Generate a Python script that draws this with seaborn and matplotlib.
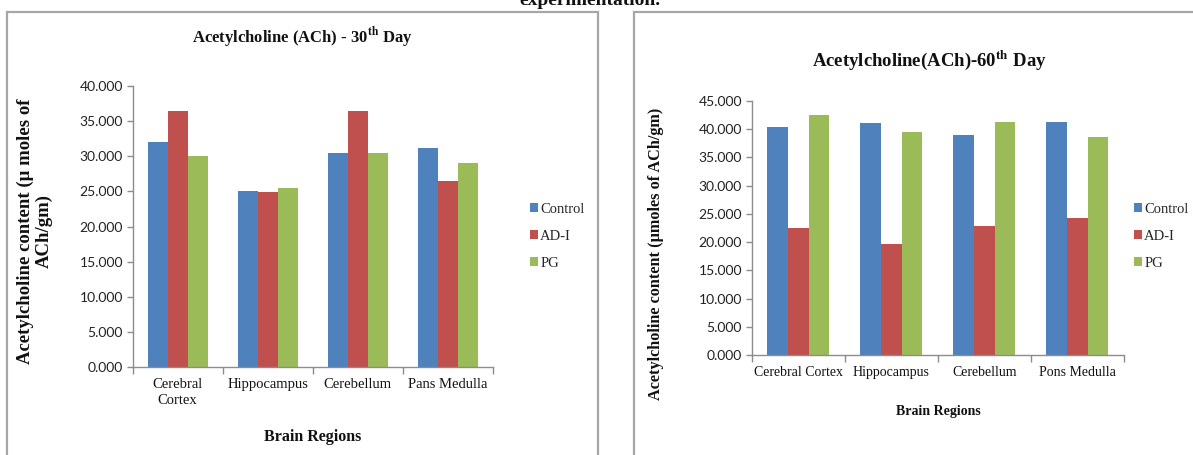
import matplotlib
matplotlib.use("Agg")
import matplotlib.pyplot as plt
from matplotlib.patches import Rectangle, Patch
from matplotlib.ticker import FixedLocator, FormatStrFormatter
import numpy as np
import pandas as pd
import seaborn as sns

# ---- data -------------------------------------------------------------
regions_30 = ["Cerebral\nCortex", "Hippocampus", "Cerebellum", "Pans Medulla"]
regions_60 = ["Cerebral Cortex", "Hippocampus", "Cerebellum", "Pons Medulla"]
groups = ["Control", "AD-I", "PG"]

control_30 = [32.1, 25.05, 30.45, 31.25]
adi_30 = [36.5, 24.9, 36.5, 26.5]
pg_30 = [30.1, 25.5, 30.45, 29.1]

control_60 = [40.3, 41.0, 38.9, 41.15]
adi_60 = [22.5, 19.7, 22.9, 24.3]
pg_60 = [42.5, 39.45, 41.15, 38.6]

colors = ["#4F81BD", "#C0504D", "#9BBB59"]

# ---- style ------------------------------------------------------------
sns.set_theme(style="white")
plt.rcParams["font.family"] = ["Liberation Serif", "DejaVu Serif"]
plt.rcParams["mathtext.fontset"] = "stix"

SERIF = ["Liberation Serif", "DejaVu Serif"]
SANS = ["Lato", "DejaVu Sans"]
AXIS_GRAY = "#8C8C8C"

W, H = 1193, 455
fig = plt.figure(figsize=(W / 100, H / 100), dpi=100)
fig.patch.set_facecolor("white")


def fx(px):
    return px / W


def fy(py):
    return 1 - py / H


def long_form(regions, ctrl, adi, pg):
    rows = []
    for series, name in zip([ctrl, adi, pg], groups):
        for r, v in zip(regions, series):
            rows.append({"Region": r, "Group": name, "Value": v})
    return pd.DataFrame(rows)


def draw_panel(ax, df, regions, ymax, step, tick_fs, xtick_fs):
    sns.barplot(data=df, x="Region", y="Value", hue="Group", order=regions,
                hue_order=groups, palette=colors, width=2 / 3, gap=0,
                saturation=1, linewidth=0, legend=False, ax=ax)
    ax.set_xlim(-0.5, len(regions) - 0.5)
    ax.set_ylim(0, ymax)
    ax.yaxis.set_major_locator(FixedLocator(np.arange(0, ymax + 0.01, step)))
    ax.yaxis.set_major_formatter(FormatStrFormatter("%.3f"))
    for sp in ["top", "right"]:
        ax.spines[sp].set_visible(False)
    for sp in ["left", "bottom"]:
        ax.spines[sp].set_color(AXIS_GRAY)
        ax.spines[sp].set_linewidth(1.0)
    ax.tick_params(axis="y", which="major", direction="out", length=4,
                   width=1, color=AXIS_GRAY, pad=3, left=True)
    ax.tick_params(axis="x", which="major", length=0, pad=8)
    ax.xaxis.set_minor_locator(FixedLocator(np.arange(-0.5, len(regions), 1.0)))
    ax.tick_params(axis="x", which="minor", direction="out", length=5,
                   width=1, color=AXIS_GRAY, bottom=True)
    for lab in ax.get_yticklabels():
        lab.set_family(SANS)
        lab.set_fontsize(tick_fs)
        lab.set_color("#222222")
    for lab in ax.get_xticklabels():
        lab.set_family(SERIF)
        lab.set_fontsize(xtick_fs)
        lab.set_color("#111111")
        lab.set_linespacing(1.3)
    ax.set_xlabel("")
    ax.set_ylabel("")
    ax.grid(False)


# ---- panel frames -----------------------------------------------------
for x0, x1 in [(7, 598), (634, 1200)]:
    fig.patches.append(Rectangle((fx(x0), fy(470)), fx(x1) - fx(x0),
                                 fy(12) - fy(470), transform=fig.transFigure,
                                 fill=False, edgecolor="#A6A6A6", lw=1.6,
                                 clip_on=False))

# caption fragment at the very top
fig.text(fx(590), fy(5), "experimentation.", ha="center", va="baseline",
         family=SERIF, fontsize=14, fontweight="bold", color="#111111")

# ---- 30th day panel ---------------------------------------------------
ax1 = fig.add_axes([fx(132.7), fy(367.3), fx(493) - fx(132.7), fy(86) - fy(367.3)])
draw_panel(ax1, long_form(regions_30, control_30, adi_30, pg_30),
           regions_30, 40, 5, 10, 10.5)
fig.text(fx(303), fy(38), r"Acetylcholine (ACh) - 30$^{\mathbf{th}}$ Day",
         ha="center", va="center", family=SERIF, fontsize=12,
         fontweight="bold", color="#111111")
fig.text(fx(313), fy(437), "Brain Regions", ha="center", va="center",
         family=SERIF, fontsize=11.5, fontweight="bold", color="#111111")
fig.text(fx(35), fy(231), "Acetylcholine content (\u03bc moles of\nACh/gm)",
         ha="center", va="center", rotation=90, family=SERIF, fontsize=13.5,
         fontweight="bold", linespacing=1.15, color="#111111")

# ---- 60th day panel ---------------------------------------------------
ax2 = fig.add_axes([fx(751.7), fy(355.3), fx(1124) - fx(751.7), fy(100.7) - fy(355.3)])
draw_panel(ax2, long_form(regions_60, control_60, adi_60, pg_60),
           regions_60, 45, 5, 10, 10)
fig.text(fx(930), fy(60), r"Acetylcholine(ACh)-60$^{\mathbf{th}}$ Day",
         ha="center", va="center", family=SERIF, fontsize=13.5,
         fontweight="bold", color="#111111")
fig.text(fx(938), fy(411), "Brain Regions", ha="center", va="center",
         family=SERIF, fontsize=10, fontweight="bold", color="#111111")
fig.text(fx(656), fy(254), "Acetylcholine content (\u03bcmoles of ACh/gm)",
         ha="center", va="center", rotation=90, family=SERIF, fontsize=11.7,
         fontweight="bold", color="#111111")

# ---- legends ----------------------------------------------------------
handles = [Patch(facecolor=c, edgecolor="none") for c in colors]
for xl in [530, 1134]:
    fig.legend(handles, groups, loc="upper left",
               bbox_to_anchor=(fx(xl), fy(203)), frameon=False,
               prop={"family": SERIF, "size": 10.5}, handlelength=0.55,
               handleheight=0.55, handletextpad=0.15, labelspacing=0.95,
               borderpad=0, borderaxespad=0)

fig.savefig("out.png", dpi=100, facecolor="white")
